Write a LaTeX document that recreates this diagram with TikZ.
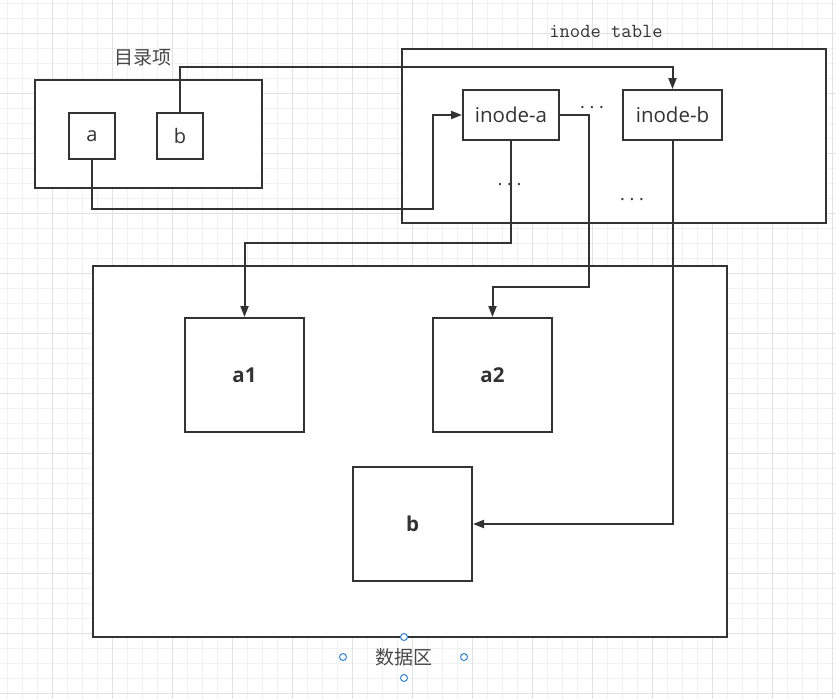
\documentclass[tikz,border=0pt]{standalone}
\usepackage{fontspec}
\setmainfont{Open Sans}
\newfontfamily\cjk{Noto Sans CJK SC}
\usepackage{xcolor}
\usepackage{tikz}
\usetikzlibrary{calc}
\usetikzlibrary{arrows.meta}
\usetikzlibrary{positioning}

\definecolor{ink}{HTML}{333333}
\definecolor{gridminor}{HTML}{F1F1F1}
\definecolor{gridmajor}{HTML}{E2E2E2}
\definecolor{handle}{HTML}{2A84E6}

\begin{document}
\begin{tikzpicture}[x=1pt, y=-1pt, line width=2pt, draw=ink,
		box/.style = {draw=ink, fill=white, rectangle, inner sep=0pt, text=ink},
		small/.style = {box, minimum width=46pt, minimum height=46pt, font=\fontsize{20}{22}\selectfont},
		inode/.style = {box, minimum height=50pt, font=\fontsize{20.5}{22}\selectfont},
		block/.style = {box, minimum width=119pt, minimum height=114pt, font=\fontsize{20.5}{22}\selectfont\bfseries},
		title/.style = {text=ink!90, font=\cjk\fontsize{19}{22}\selectfont},
		dots/.style = {text=ink, font=\fontsize{18}{20}\selectfont},
		arr/.style = {draw=ink, -{Triangle[length=11pt, width=8pt]}}]
		\useasboundingbox (0,0) rectangle (836,699);
		\fill[white] (0,0) rectangle (836,699);
		
		% background grid
		\foreach \x in {7,22,...,832} \draw[gridminor, line width=0.8pt] (\x,0) -- (\x,699);
		\foreach \y in {3,18,...,693} \draw[gridminor, line width=0.8pt] (0,\y) -- (836,\y);
		\foreach \x in {52,112,...,832} \draw[gridmajor, line width=0.8pt] (\x,0) -- (\x,699);
		\foreach \y in {33,93,...,693} \draw[gridmajor, line width=0.8pt] (0,\y) -- (836,\y);
		
		% directory entries
		\node[box, minimum width=227pt, minimum height=108pt] (dir) at (148.5,134) {};
		\node[title] (dirlabel) at (143,58) {目录项};
		\node[small] (fa) at (92,136) {a};
		\node[small] (fb) at (180,136) {b};
		
		% inode table
		\node[box, minimum width=424pt, minimum height=174pt] (itable) at (614,136) {};
		\node[text=ink, font=\ttfamily\fontsize{20}{22}\selectfont] (itlabel) at (606,31) {inode table};
		\node[inode, minimum width=96pt] (inodea) at (511,115) {inode-a};
		\node[inode, minimum width=99pt] (inodeb) at (672.5,115) {inode-b};
		\node[dots] (dots1) at (592,108) {.\ .\ .};
		\node[dots] (dots2) at (509.5,185) {.\ .\ .};
		\node[dots] (dots3) at (632,200) {.\ .\ .};
		
		% data blocks
		\node[box, minimum width=634pt, minimum height=371pt] (data) at (410,451.5) {};
		\node[title] (datalabel) at (404,657) {数据区};
		\node[block] (da1) at (244.5,375) {a1};
		\node[block] (da2) at (492.5,375) {a2};
		\node[block] (db) at (412.5,524) {b};
		
		% links
		\draw[arr] (fb.north) -- ++(0,-45) -| (inodeb.north);
		\draw[arr] (fa.south) -- ++(0,49) -| ($(inodea.west)+(-29,0)$) -- (inodea.west);
		\draw[arr] (inodea.south) -- ++(0,102) -| (da1.north);
		\draw[arr] (inodea.east) -- ++(29,0) -- ++(0,172) -| (da2.north);
		\draw[arr] (inodeb.south) |- (db.east);
		
		% selection handles
		\foreach \hx/\hy in {343/657, 464/657, 404/637, 404/678}
			\draw[handle, fill=white, line width=1pt] (\hx,\hy) circle (3.5);
	\end{tikzpicture}
\end{document}
